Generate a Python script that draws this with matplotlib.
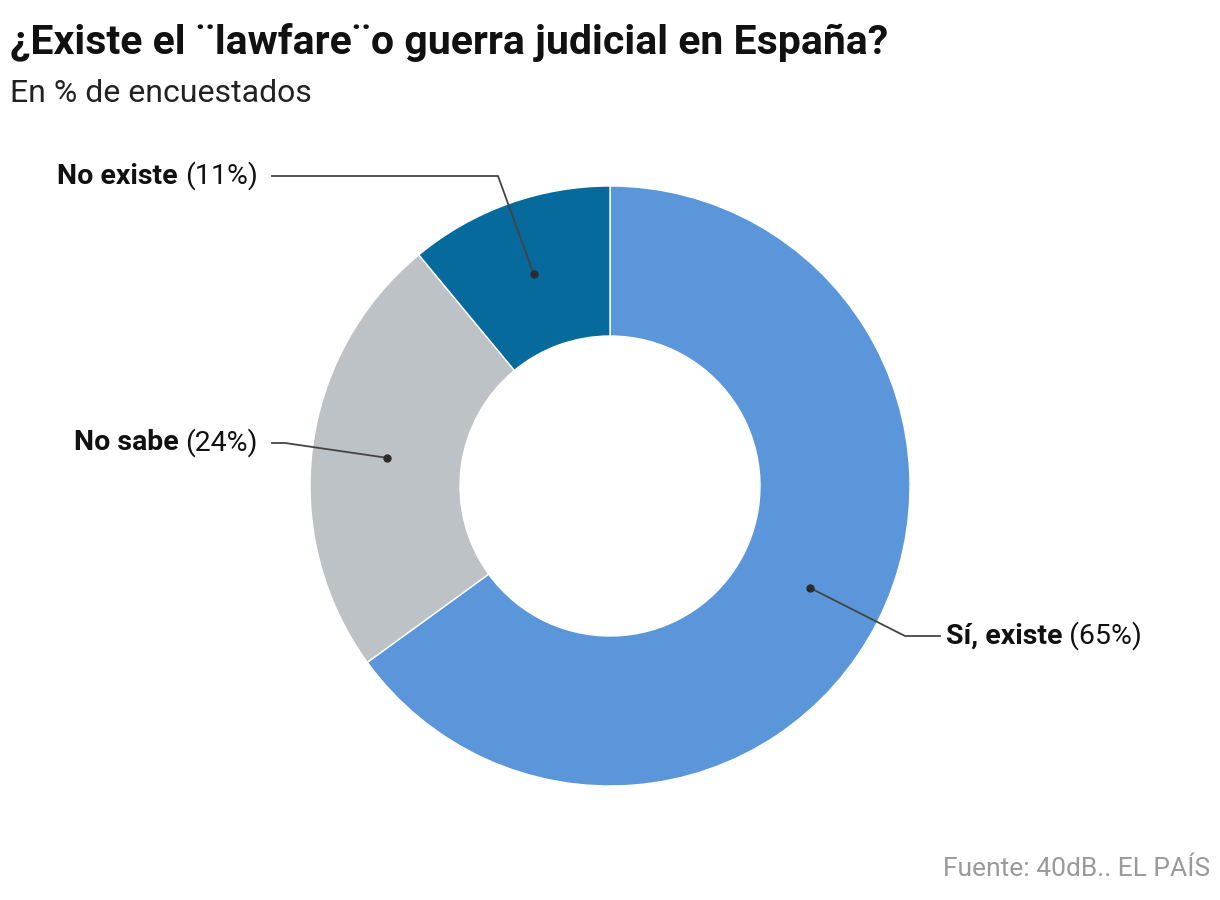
import numpy as np
import matplotlib
matplotlib.use("Agg")
import matplotlib.pyplot as plt
from matplotlib import font_manager

# Datos
categorias = ["Sí, existe", "No sabe", "No existe"]
valores = [65, 24, 11]
colores = ["#5b96da", "#bdc2c6", "#066a9c"]

nombres = {f.name for f in font_manager.fontManager.ttflist}
fuente = "Liberation Sans Narrow" if "Liberation Sans Narrow" in nombres else "Roboto"
plt.rcParams["font.family"] = [fuente, "DejaVu Sans"]

W, H = 1220, 900
fig = plt.figure(figsize=(W / 100, H / 100), dpi=100)
ax = fig.add_axes([0, 0, 1, 1])

cx, cy, R = 610, 486, 300
# eje y invertido (pixeles): empezamos arriba (-90) y giramos en sentido horario
wedges, _ = ax.pie(valores, colors=colores, startangle=-90, counterclock=True,
                   radius=R, center=(cx, cy), frame=True,
                   wedgeprops=dict(width=150, edgecolor="white", linewidth=1))
ax.set_xlim(0, W)
ax.set_ylim(H, 0)
ax.set_aspect("equal")
ax.axis("off")

# Etiquetas con líneas guía
codos = [(905, 636, 940), (285, 443, 272), (498, 176, 272)]
for w, cat, val, (ex, ey, hx) in zip(wedges, categorias, valores, codos):
    ang = np.deg2rad((w.theta1 + w.theta2) / 2)
    px = cx + 225 * np.cos(ang)
    py = cy + 225 * np.sin(ang)
    ax.plot([px, ex, hx], [py, ey, ey], color="#444444", lw=1.3)
    ax.plot(px, py, "o", color="#2b2b2b", ms=5)
    if hx > ex:
        t = ax.text(hx + 6, ey, cat, fontsize=20.5, fontweight="bold", color="#111111",
                    ha="left", va="center")
        ax.annotate(f" ({val}%)", xycoords=t, xy=(1, 0.5), va="center", ha="left",
                    fontsize=20.5, color="#111111")
    else:
        t = ax.text(hx - 14, ey, f"({val}%)", fontsize=20.5, color="#111111",
                    ha="right", va="center")
        ax.annotate(f"{cat} ", xycoords=t, xy=(0, 0.5), va="center", ha="right",
                    fontsize=20.5, fontweight="bold", color="#111111")

fig.text(10 / W, 1 - 42 / H, "¿Existe el ¨lawfare¨o guerra judicial en España?",
         fontsize=29.5, fontweight="bold", color="#111111", va="center", ha="left")
fig.text(10 / W, 1 - 93 / H, "En % de encuestados", fontsize=23, color="#222222",
         va="center", ha="left")
fig.text(1210 / W, 1 - 869 / H, "Fuente: 40dB.. EL PAÍS", fontsize=19, color="#9a9a9a",
         va="center", ha="right")

fig.savefig("out.png", dpi=100, facecolor="white")
